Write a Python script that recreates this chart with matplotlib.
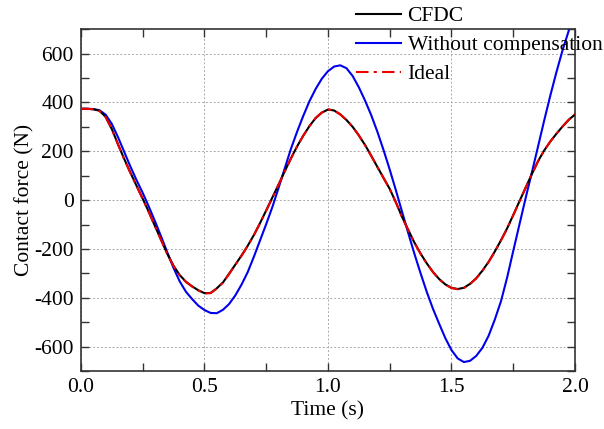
import matplotlib
matplotlib.use("Agg")
import matplotlib.pyplot as plt
from matplotlib.ticker import MultipleLocator, FormatStrFormatter

plt.rcParams['font.family'] = ['Liberation Serif', 'DejaVu Serif']
plt.rcParams['axes.unicode_minus'] = False

# Sample times (s)
t = [0.000, 0.025, 0.050, 0.075, 0.100, 0.125, 0.150, 0.175, 0.200, 0.225,
     0.250, 0.275, 0.300, 0.325, 0.350, 0.375, 0.400, 0.425, 0.450, 0.475,
     0.500, 0.525, 0.550, 0.575, 0.600, 0.625, 0.650, 0.675, 0.700, 0.725,
     0.750, 0.775, 0.800, 0.825, 0.850, 0.875, 0.900, 0.925, 0.950, 0.975,
     1.000, 1.025, 1.050, 1.075, 1.100, 1.125, 1.150, 1.175, 1.200, 1.225,
     1.250, 1.275, 1.300, 1.325, 1.350, 1.375, 1.400, 1.425, 1.450, 1.475,
     1.500, 1.525, 1.550, 1.575, 1.600, 1.625, 1.650, 1.675, 1.700, 1.725,
     1.750, 1.775, 1.800, 1.825, 1.850, 1.875, 1.900, 1.925, 1.950, 1.975,
     2.000]

# Ideal contact force (N)
f_ideal = [374, 374, 372, 365, 340, 290, 228, 168, 112, 58,
           5, -50, -108, -165, -222, -270, -308, -335, -354, -370,
           -382, -381, -362, -338, -302, -265, -228, -188, -144, -95,
           -43, 10, 63, 117, 170, 220, 264, 303, 336, 359,
           372, 367, 351, 328, 300, 265, 225, 181, 135, 90,
           45, -10, -70, -123, -175, -220, -260, -295, -324, -346,
           -360, -365, -360, -344, -321, -290, -254, -212, -166, -117,
           -62, -6, 50, 105, 158, 203, 240, 272, 302, 330,
           352]

# Contact force with CFDC (N)
f_cfdc = [374, 374, 372, 366, 341, 291, 229, 169, 113, 59,
          6, -49, -107, -164, -221, -269, -307, -334, -353, -369,
          -381, -380, -361, -337, -301, -264, -227, -187, -143, -94,
          -42, 11, 64, 118, 171, 220, 264, 303, 336, 358,
          371, 367, 351, 328, 300, 265, 226, 182, 136, 91,
          46, -9, -69, -122, -174, -219, -259, -294, -323, -345,
          -359, -364, -359, -343, -320, -289, -253, -211, -165, -116,
          -61, -5, 51, 106, 159, 203, 240, 272, 302, 329,
          351]

# Contact force without compensation (N)
f_nc = [374, 374, 373, 368, 350, 312, 258, 198, 138, 82,
        30, -27, -87, -150, -215, -278, -333, -375, -405, -432,
        -450, -462, -463, -449, -425, -390, -346, -295, -232, -165,
        -98, -28, 50, 130, 210, 280, 345, 405, 455, 497,
        528, 547, 552, 540, 508, 462, 408, 348, 280, 205,
        125, 40, -48, -135, -220, -300, -376, -445, -506, -565,
        -614, -648, -663, -658, -638, -605, -556, -490, -415, -318,
        -208, -100, 8, 112, 218, 325, 428, 525, 615, 695,
        770]

fig = plt.figure(figsize=(6.04, 4.29), dpi=100)
ax = fig.add_axes([0.134, 0.135, 0.818, 0.797])

ax.plot(t, f_cfdc, color='black', lw=1.5, label='CFDC', zorder=3)
ax.plot(t, f_nc, color='#0000ee', lw=1.5, label='Without compensation', zorder=2)
ax.plot(t, f_ideal, color='#ee0000', lw=1.5, ls=(0, (6, 2.5, 1.5, 2.5)),
        label='Ideal', zorder=4)

ax.set_xlim(0, 2.0)
ax.set_ylim(-700, 700)
ax.xaxis.set_major_locator(MultipleLocator(0.5))
ax.xaxis.set_minor_locator(MultipleLocator(0.25))
ax.yaxis.set_major_locator(MultipleLocator(200))
ax.yaxis.set_minor_locator(MultipleLocator(100))
ax.xaxis.set_major_formatter(FormatStrFormatter('%.1f'))

ax.tick_params(which='both', direction='in', top=True, right=True,
               labelsize=15.5, width=1.0, color='#333333')
ax.tick_params(which='major', length=6, pad=5)
ax.tick_params(which='minor', length=6)
ax.grid(True, which='major', color='#aaaaaa', ls=(0, (2, 2)), lw=0.7)
for s in ax.spines.values():
    s.set_linewidth(1.2)
    s.set_color('#333333')

ax.set_xlabel('Time (s)', fontsize=15.5, labelpad=3)
ax.set_ylabel('Contact force (N)', fontsize=15.5, labelpad=0)

fig.legend(loc='upper left', bbox_to_anchor=(0.575, 1.006), frameon=False,
           fontsize=15.5, handlelength=2.1, handletextpad=0.3, labelspacing=0.42,
           borderaxespad=0)

fig.savefig('out.png', dpi=100)
